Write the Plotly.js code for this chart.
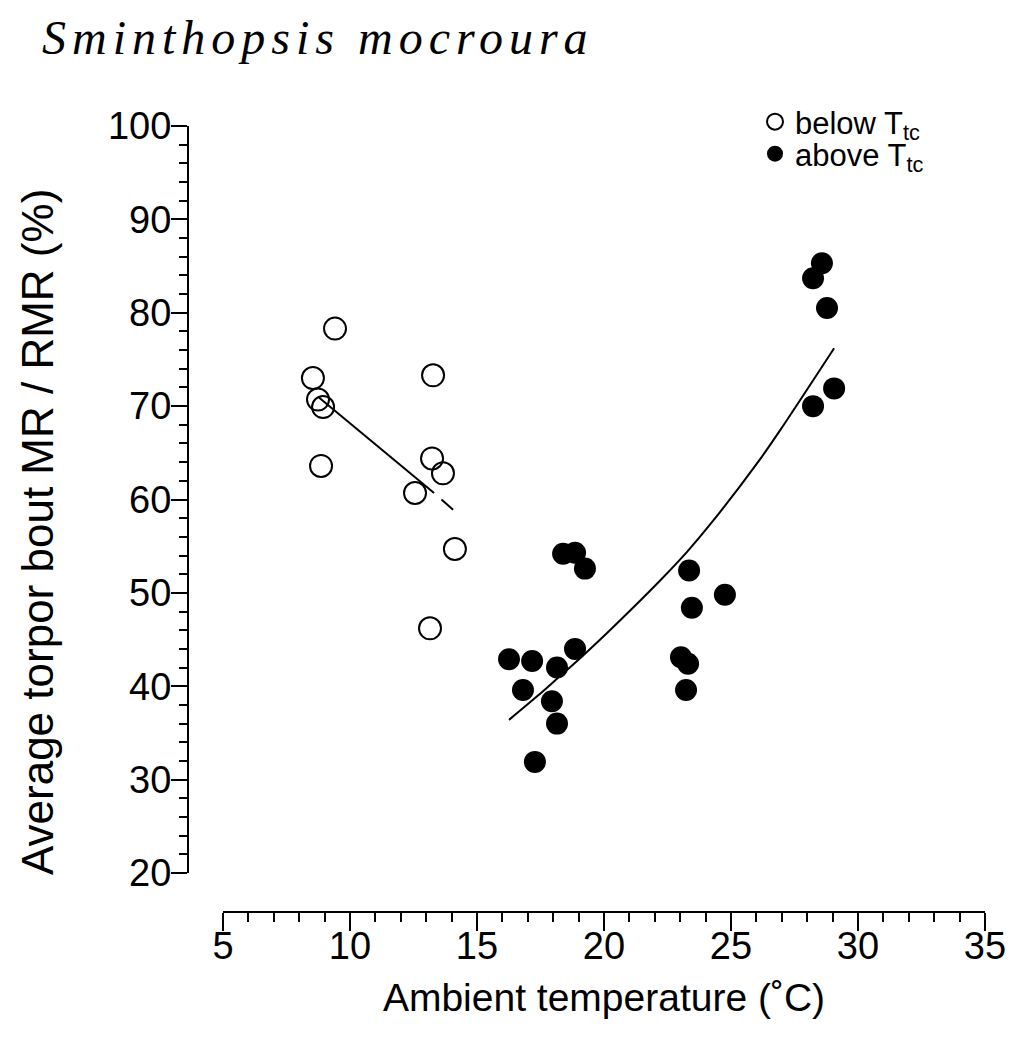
<!DOCTYPE html>
<html>
<head>
<meta charset="utf-8">
<script src="https://cdn.plot.ly/plotly-3.0.1.min.js"></script>
<style>
html,body{margin:0;padding:0;background:#fff;}
.gtitle{letter-spacing:6px;}
</style>
</head>
<body>
<div id="chart" style="width:1009px;height:1046px;"></div>
<script>
// Below T_tc (open circles)
var belowX = [9.41, 8.54, 8.74, 8.94, 8.86, 13.27, 13.23, 13.66, 12.56, 14.13, 13.15];
var belowY = [78.3, 73.0, 70.7, 69.9, 63.6, 73.3, 64.4, 62.8, 60.7, 54.7, 46.2];
// Above T_tc (filled circles)
var aboveX = [18.39, 18.86, 19.25, 16.26, 17.17, 18.15, 18.86, 16.81, 17.95, 18.15, 17.28,
              23.35, 24.76, 23.46, 23.03, 23.31, 23.23, 28.58, 28.23, 28.78, 29.06, 28.23];
var aboveY = [54.2, 54.3, 52.6, 42.9, 42.7, 42.0, 44.0, 39.6, 38.4, 36.0, 31.9,
              52.4, 49.8, 48.4, 43.1, 42.4, 39.6, 85.3, 83.7, 80.5, 71.9, 70.0];
// Fitted line below T_tc (solid part, then short dashed extension)
var fitBelowX = [8.74, 13.31];
var fitBelowY = [71.0, 60.7];
var fitBelowDashX = [13.6, 14.06];
var fitBelowDashY = [60.0, 58.9];
// Fitted curve above T_tc
var fitAboveX = [16.26, 17.40, 18.15, 19.06, 20.12, 21.14, 22.20, 23.27, 24.29, 26.14, 26.93, 29.06];
var fitAboveY = [36.4, 39.0, 40.8, 43.0, 45.7, 48.4, 51.3, 54.4, 57.7, 64.3, 67.4, 76.2];

var traces = [
  {x: fitBelowX, y: fitBelowY, mode: 'lines', line: {color: '#000', width: 2}, showlegend: false, hoverinfo: 'skip'},
  {x: fitBelowDashX, y: fitBelowDashY, mode: 'lines', line: {color: '#000', width: 2}, showlegend: false, hoverinfo: 'skip'},
  {x: fitAboveX, y: fitAboveY, mode: 'lines', line: {color: '#000', width: 2, shape: 'spline', smoothing: 1}, showlegend: false, hoverinfo: 'skip'},
  {x: belowX, y: belowY, mode: 'markers', name: 'below T<sub>tc</sub>', legend: 'legend',
   marker: {symbol: 'circle-open', size: 22, color: '#000', line: {width: 2, color: '#000'}}},
  {x: aboveX, y: aboveY, mode: 'markers', name: 'above T<sub>tc</sub>', legend: 'legend2',
   marker: {symbol: 'circle', size: 22, color: '#000'}}
];

var sans = 'Liberation Sans, Arial, sans-serif';
var axisFont = {family: sans, size: 38, color: '#000'};
var legFont = {family: sans, size: 31, color: '#000'};

var layout = {
  width: 1009, height: 1046,
  paper_bgcolor: '#fff', plot_bgcolor: '#fff',
  margin: {l: 188, r: 24, t: 126, b: 134},
  title: {
    text: '<i>Sminthopsis mocroura</i>',
    font: {family: 'Liberation Serif, DejaVu Serif, serif', size: 48, color: '#000'},
    x: 42/1009, xanchor: 'left', xref: 'container',
    y: 1 - 37/1046, yanchor: 'middle', yref: 'container'
  },
  xaxis: {
    range: [5, 35], domain: [35/797, 1], anchor: 'free', position: 0,
    showgrid: false, zeroline: false, showline: true, linecolor: '#000', linewidth: 2,
    ticks: 'outside', ticklen: 18, tickwidth: 2, tickcolor: '#000', dtick: 5, tick0: 5,
    minor: {dtick: 1, ticks: 'outside', ticklen: 9, tickwidth: 2, tickcolor: '#000', showgrid: false},
    tickfont: axisFont, ticklabelstandoff: -18,
    title: {text: 'Ambient temperature (˚C)', font: {family: sans, size: 39, color: '#000'}, standoff: 17}
  },
  yaxis: {
    range: [20, 100], domain: [39/786, 1], anchor: 'free', position: 0,
    showgrid: false, zeroline: false, showline: true, linecolor: '#000', linewidth: 2,
    ticks: 'outside', ticklen: 16, tickwidth: 2, tickcolor: '#000', dtick: 10, tick0: 20,
    minor: {dtick: 2, ticks: 'outside', ticklen: 8, tickwidth: 2, tickcolor: '#000', showgrid: false},
    tickfont: axisFont, ticklabelstandoff: -8
  },
  annotations: [{
    text: 'Average torpor bout MR / RMR (%)', textangle: -90,
    xref: 'paper', yref: 'paper', x: (37 - 188)/797, y: (912 - 532)/786,
    xanchor: 'center', yanchor: 'middle', showarrow: false,
    font: {family: sans, size: 44, color: '#000'}
  }],
  showlegend: true,
  legend: {
    x: (755 - 188)/797, xanchor: 'left', y: (912 - 122)/786, yanchor: 'middle',
    bgcolor: 'rgba(0,0,0,0)', borderwidth: 0, font: legFont
  },
  legend2: {
    x: (755 - 188)/797, xanchor: 'left', y: (912 - 154)/786, yanchor: 'middle',
    bgcolor: 'rgba(0,0,0,0)', borderwidth: 0, font: legFont
  }
};

Plotly.newPlot('chart', traces, layout, {displayModeBar: false, staticPlot: true});
</script>
</body>
</html>
